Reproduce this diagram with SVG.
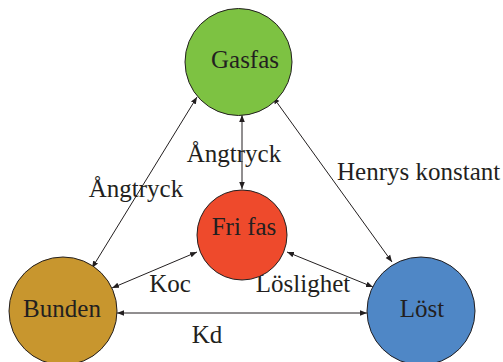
<svg xmlns="http://www.w3.org/2000/svg" width="503" height="362" viewBox="0 0 503 362">
<defs>
<marker id="ah" viewBox="0 0 10 10" refX="10" refY="5" markerWidth="7" markerHeight="7" orient="auto-start-reverse" markerUnits="userSpaceOnUse">
<path d="M0,1 L10,5 L0,9 Z" fill="#231f20"/>
</marker>
<style>
.n{stroke:#231f20;stroke-width:1}
.t{font-family:"Liberation Serif","Times New Roman",serif;font-size:25px;fill:#231f20}
.c{text-anchor:middle}
.e{stroke:#231f20;stroke-width:1;fill:none;marker-start:url(#ah);marker-end:url(#ah)}
</style>
</defs>
<rect width="503" height="362" fill="#ffffff"/>
<g id="connectors">
<line class="e" x1="197" y1="97" x2="92" y2="268"/>
<line class="e" x1="242" y1="115" x2="242" y2="189"/>
<line class="e" x1="273" y1="97" x2="392" y2="262"/>
<line class="e" x1="197" y1="252" x2="112" y2="288"/>
<line class="e" x1="287" y1="252" x2="373" y2="287"/>
<line class="e" x1="117" y1="313" x2="367" y2="313"/>
</g>
<g id="labels">
<text class="t c" x="136" y="197">Ångtryck</text>
<text class="t c" x="234" y="162">Ångtryck</text>
<text class="t" x="337" y="180">Henrys konstant</text>
<text class="t c" x="170" y="292">Koc</text>
<text class="t c" x="303" y="292">Löslighet</text>
<text class="t c" x="207" y="343">Kd</text>
</g>
<g id="gasfas">
<circle class="n" cx="238.5" cy="62" r="53.5" fill="#7dc242"/>
<text class="t c" x="245" y="68">Gasfas</text>
</g>
<g id="frifas">
<circle class="n" cx="242" cy="235" r="45" fill="#ee4a2c"/>
<text class="t c" x="244" y="235">Fri fas</text>
</g>
<g id="bunden">
<circle class="n" cx="63" cy="311" r="54" fill="#c8962e"/>
<text class="t c" x="62" y="317">Bunden</text>
</g>
<g id="lost">
<circle class="n" cx="421" cy="311" r="54" fill="#4f87c6"/>
<text class="t c" x="422" y="317">Löst</text>
</g>
</svg>
